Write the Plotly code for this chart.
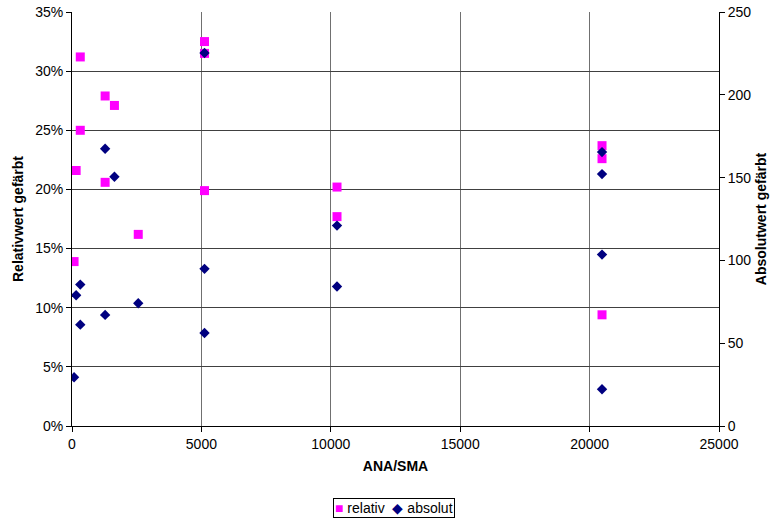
import plotly.graph_objects as go

# Relative series (left axis, fraction)
rel_x = [80, 160, 320, 320, 1280, 1280, 1640, 2560, 5120, 5120, 5120, 10240, 10240, 20480, 20480, 20480]
rel_y = [0.139, 0.216, 0.312, 0.250, 0.279, 0.206, 0.271, 0.162, 0.325, 0.315, 0.199, 0.202, 0.177, 0.237, 0.226, 0.094]

# Absolute series (right axis)
abs_x = [80, 160, 320, 320, 1280, 1280, 1640, 2560, 5120, 5120, 5120, 10240, 10240, 20480, 20480, 20480, 20480]
abs_y = [29.4, 79.0, 85.4, 61.2, 167.4, 67.1, 150.5, 74.1, 225.2, 94.9, 56.2, 121.0, 84.2, 165.4, 152.1, 103.5, 22.2]

series_names = ["relativ", "absolut"]
REL_COLOR = "#FF00FF"
ABS_COLOR = "#000080"

font = "Liberation Sans, Arial, sans-serif"

fig = go.Figure()
fig.add_trace(go.Scatter(x=rel_x, y=rel_y, mode="markers", name=series_names[0],
                         marker=dict(symbol="square", size=9, color=REL_COLOR),
                         yaxis="y"))
fig.add_trace(go.Scatter(x=abs_x, y=abs_y, mode="markers", name=series_names[1],
                         marker=dict(symbol="diamond", size=8, color=ABS_COLOR),
                         yaxis="y2"))

W, H = 777, 523
fig.update_layout(
    width=W, height=H,
    margin=dict(l=72, r=58, t=12, b=97),
    paper_bgcolor="white", plot_bgcolor="white",
    font=dict(family=font, size=14, color="black"),
    showlegend=False,
    xaxis=dict(range=[0, 25000], dtick=5000, tickformat="d", automargin=False,
               showgrid=True, gridcolor="#707070", gridwidth=1,
               showline=True, linecolor="black", linewidth=1, mirror=False,
               ticks="outside", ticklen=5, tickcolor="black",
               zeroline=False,
               title=dict(text="<b>ANA/SMA</b>", font=dict(size=14), standoff=10)),
    yaxis=dict(range=[0, 0.35], dtick=0.05, tickformat=".0%", automargin=False,
               showgrid=True, gridcolor="#404040", gridwidth=1,
               showline=True, linecolor="black", linewidth=1,
               ticks="outside", ticklen=5, tickcolor="black",
               zeroline=False,
               title=dict(text="<b>Relativwert gefärbt</b>", font=dict(size=14), standoff=8)),
    yaxis2=dict(range=[0, 250], dtick=50, overlaying="y", side="right", automargin=False,
                showgrid=False, showline=True, linecolor="black", linewidth=1,
                ticks="outside", ticklen=5, tickcolor="black",
                zeroline=False,
                title=dict(text="<b>Absolutwert gefärbt</b>", font=dict(size=14), standoff=5)),
)

legend_text = (f'<span style="color:{REL_COLOR}">■</span> {series_names[0]}  '
               f'<span style="color:{ABS_COLOR}">◆</span> {series_names[1]}')
fig.add_annotation(text=legend_text, xref="paper", yref="paper",
                   x=(394 - 72) / 647, y=1 - (507.5 - 12) / 414,
                   xanchor="center", yanchor="middle", showarrow=False,
                   font=dict(size=14, family=font, color="black"),
                   bordercolor="black", borderwidth=1, borderpad=1, bgcolor="white")

fig.write_html("out.html",
               config={"displayModeBar": False},
               post_script="document.body.style.margin='0';document.body.style.overflow='hidden';")
